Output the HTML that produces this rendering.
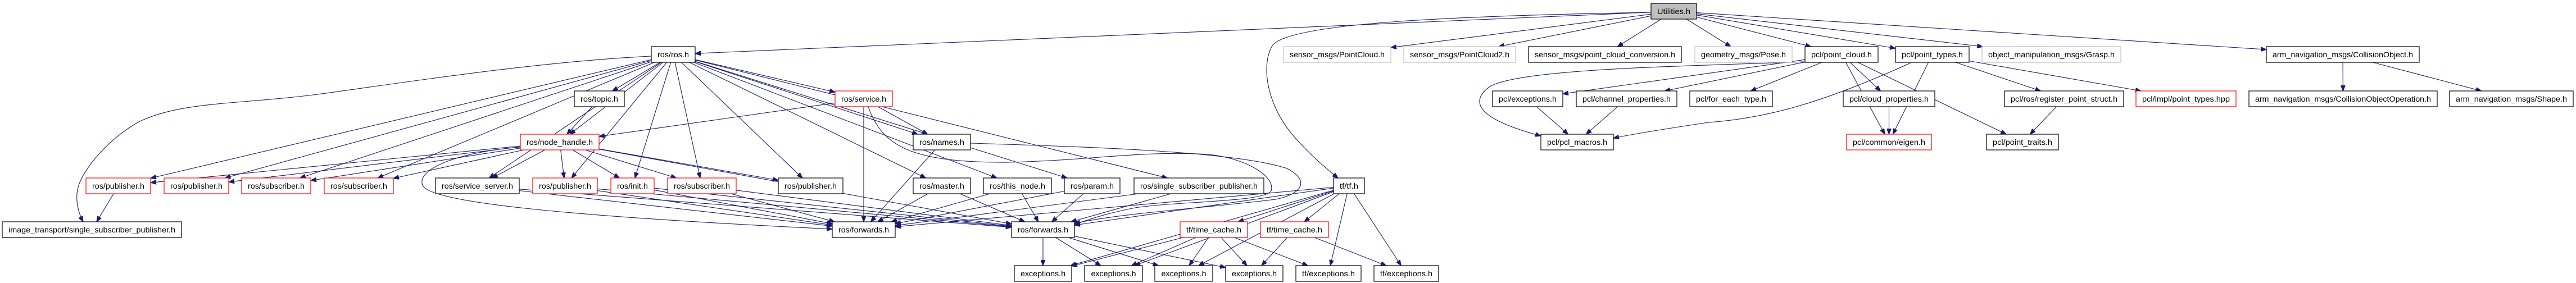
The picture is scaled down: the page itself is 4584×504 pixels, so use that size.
<!DOCTYPE html>
<html><head><meta charset="utf-8">
<style>
html,body{margin:0;padding:0;background:#fff;}
svg{display:block;}
text{font-family:"Liberation Sans",sans-serif;font-size:14px;fill:#000;}
rect{fill:#fff;stroke-width:1.2;}
.b{stroke:#000;}
.r{stroke:#ff0000;}
.g{stroke:#bfbfbf;}
.u{stroke:#000;fill:#bfbfbf;}
path.e{fill:none;stroke:#191970;stroke-width:1.1;}
</style></head>
<body>
<svg id="s" xmlns="http://www.w3.org/2000/svg" width="4584" height="504" viewBox="0 0 4584 504">
<defs><marker id="a" markerUnits="userSpaceOnUse" markerWidth="11" markerHeight="8" refX="10" refY="4" orient="auto"><path d="M0,0 L10,4 L0,8 z" fill="#191970" stroke="#191970"/></marker></defs>
<g id="edges"></g>
<g id="nodes">
<rect id="U" class="u" x="2938" y="6" width="81" height="28"/><text x="2978.5" y="25" text-anchor="middle" textLength="59" lengthAdjust="spacingAndGlyphs">Utilities.h</text>
<rect id="ros" class="b" x="1159" y="83" width="78" height="28"/><text x="1198" y="102" text-anchor="middle" textLength="56" lengthAdjust="spacingAndGlyphs">ros/ros.h</text>
<rect id="pc" class="g" x="2284" y="83" width="191" height="28"/><text x="2379.5" y="102" text-anchor="middle" textLength="169" lengthAdjust="spacingAndGlyphs">sensor_msgs/PointCloud.h</text>
<rect id="pc2" class="g" x="2498" y="83" width="199" height="28"/><text x="2597.5" y="102" text-anchor="middle" textLength="177" lengthAdjust="spacingAndGlyphs">sensor_msgs/PointCloud2.h</text>
<rect id="pcc" class="b" x="2720" y="83" width="272" height="28"/><text x="2856" y="102" text-anchor="middle" textLength="250" lengthAdjust="spacingAndGlyphs">sensor_msgs/point_cloud_conversion.h</text>
<rect id="pose" class="g" x="3016" y="83" width="173" height="28"/><text x="3102.5" y="102" text-anchor="middle" textLength="151" lengthAdjust="spacingAndGlyphs">geometry_msgs/Pose.h</text>
<rect id="pcl_pc" class="b" x="3212" y="83" width="130" height="28"/><text x="3277" y="102" text-anchor="middle" textLength="108" lengthAdjust="spacingAndGlyphs">pcl/point_cloud.h</text>
<rect id="pcl_pt" class="b" x="3373" y="83" width="131" height="28"/><text x="3438.5" y="102" text-anchor="middle" textLength="109" lengthAdjust="spacingAndGlyphs">pcl/point_types.h</text>
<rect id="grasp" class="g" x="3527" y="83" width="247" height="28"/><text x="3650.5" y="102" text-anchor="middle" textLength="225" lengthAdjust="spacingAndGlyphs">object_manipulation_msgs/Grasp.h</text>
<rect id="co" class="b" x="4033" y="83" width="272" height="28"/><text x="4169" y="102" text-anchor="middle" textLength="250" lengthAdjust="spacingAndGlyphs">arm_navigation_msgs/CollisionObject.h</text>
<rect id="topic" class="b" x="1022" y="162" width="89" height="28"/><text x="1066.5" y="181" text-anchor="middle" textLength="67" lengthAdjust="spacingAndGlyphs">ros/topic.h</text>
<rect id="service" class="r" x="1486" y="162" width="102" height="28"/><text x="1537" y="181" text-anchor="middle" textLength="80" lengthAdjust="spacingAndGlyphs">ros/service.h</text>
<rect id="pexc" class="b" x="2656" y="162" width="125" height="28"/><text x="2718.5" y="181" text-anchor="middle" textLength="103" lengthAdjust="spacingAndGlyphs">pcl/exceptions.h</text>
<rect id="chan" class="b" x="2805" y="162" width="179" height="28"/><text x="2894.5" y="181" text-anchor="middle" textLength="157" lengthAdjust="spacingAndGlyphs">pcl/channel_properties.h</text>
<rect id="foreach" class="b" x="3007" y="162" width="147" height="28"/><text x="3080.5" y="181" text-anchor="middle" textLength="125" lengthAdjust="spacingAndGlyphs">pcl/for_each_type.h</text>
<rect id="cloudp" class="b" x="3280" y="162" width="163" height="28"/><text x="3361.5" y="181" text-anchor="middle" textLength="141" lengthAdjust="spacingAndGlyphs">pcl/cloud_properties.h</text>
<rect id="reg" class="b" x="3567" y="162" width="212" height="28"/><text x="3673" y="181" text-anchor="middle" textLength="190" lengthAdjust="spacingAndGlyphs">pcl/ros/register_point_struct.h</text>
<rect id="impl" class="r" x="3801" y="162" width="178" height="28"/><text x="3890" y="181" text-anchor="middle" textLength="156" lengthAdjust="spacingAndGlyphs">pcl/impl/point_types.hpp</text>
<rect id="coo" class="b" x="4002" y="162" width="335" height="28"/><text x="4169.5" y="181" text-anchor="middle" textLength="313" lengthAdjust="spacingAndGlyphs">arm_navigation_msgs/CollisionObjectOperation.h</text>
<rect id="shape" class="b" x="4359" y="162" width="220" height="28"/><text x="4469" y="181" text-anchor="middle" textLength="198" lengthAdjust="spacingAndGlyphs">arm_navigation_msgs/Shape.h</text>
<rect id="nh" class="r" x="926" y="239" width="140" height="28"/><text x="996" y="258" text-anchor="middle" textLength="118" lengthAdjust="spacingAndGlyphs">ros/node_handle.h</text>
<rect id="names" class="b" x="1625" y="239" width="102" height="28"/><text x="1676" y="258" text-anchor="middle" textLength="80" lengthAdjust="spacingAndGlyphs">ros/names.h</text>
<rect id="macros" class="b" x="2742" y="239" width="129" height="28"/><text x="2806.5" y="258" text-anchor="middle" textLength="107" lengthAdjust="spacingAndGlyphs">pcl/pcl_macros.h</text>
<rect id="eigen" class="r" x="3286" y="239" width="151" height="28"/><text x="3361.5" y="258" text-anchor="middle" textLength="129" lengthAdjust="spacingAndGlyphs">pcl/common/eigen.h</text>
<rect id="traits" class="b" x="3535" y="239" width="128" height="28"/><text x="3599" y="258" text-anchor="middle" textLength="106" lengthAdjust="spacingAndGlyphs">pcl/point_traits.h</text>
<rect id="pub1" class="r" x="153" y="317" width="115" height="28"/><text x="210.5" y="336" text-anchor="middle" textLength="93" lengthAdjust="spacingAndGlyphs">ros/publisher.h</text>
<rect id="pub2" class="r" x="292" y="317" width="115" height="28"/><text x="349.5" y="336" text-anchor="middle" textLength="93" lengthAdjust="spacingAndGlyphs">ros/publisher.h</text>
<rect id="sub1" class="r" x="430" y="317" width="123" height="28"/><text x="491.5" y="336" text-anchor="middle" textLength="101" lengthAdjust="spacingAndGlyphs">ros/subscriber.h</text>
<rect id="sub2" class="r" x="577" y="317" width="123" height="28"/><text x="638.5" y="336" text-anchor="middle" textLength="101" lengthAdjust="spacingAndGlyphs">ros/subscriber.h</text>
<rect id="ss" class="b" x="775" y="317" width="149" height="28"/><text x="849.5" y="336" text-anchor="middle" textLength="127" lengthAdjust="spacingAndGlyphs">ros/service_server.h</text>
<rect id="pub3" class="r" x="948" y="317" width="115" height="28"/><text x="1005.5" y="336" text-anchor="middle" textLength="93" lengthAdjust="spacingAndGlyphs">ros/publisher.h</text>
<rect id="init" class="r" x="1087" y="317" width="77" height="28"/><text x="1125.5" y="336" text-anchor="middle" textLength="55" lengthAdjust="spacingAndGlyphs">ros/init.h</text>
<rect id="sub3" class="r" x="1188" y="317" width="122" height="28"/><text x="1249" y="336" text-anchor="middle" textLength="100" lengthAdjust="spacingAndGlyphs">ros/subscriber.h</text>
<rect id="pub4" class="b" x="1385" y="317" width="115" height="28"/><text x="1442.5" y="336" text-anchor="middle" textLength="93" lengthAdjust="spacingAndGlyphs">ros/publisher.h</text>
<rect id="master" class="b" x="1625" y="317" width="102" height="28"/><text x="1676" y="336" text-anchor="middle" textLength="80" lengthAdjust="spacingAndGlyphs">ros/master.h</text>
<rect id="thisn" class="b" x="1750" y="317" width="121" height="28"/><text x="1810.5" y="336" text-anchor="middle" textLength="99" lengthAdjust="spacingAndGlyphs">ros/this_node.h</text>
<rect id="param" class="b" x="1894" y="317" width="99" height="28"/><text x="1943.5" y="336" text-anchor="middle" textLength="77" lengthAdjust="spacingAndGlyphs">ros/param.h</text>
<rect id="ssp" class="b" x="2018" y="317" width="231" height="28"/><text x="2133.5" y="336" text-anchor="middle" textLength="209" lengthAdjust="spacingAndGlyphs">ros/single_subscriber_publisher.h</text>
<rect id="tf" class="b" x="2373" y="317" width="55" height="28"/><text x="2400.5" y="336" text-anchor="middle" textLength="33" lengthAdjust="spacingAndGlyphs">tf/tf.h</text>
<rect id="img" class="b" x="4" y="395" width="319" height="28"/><text x="163.5" y="414" text-anchor="middle" textLength="297" lengthAdjust="spacingAndGlyphs">image_transport/single_subscriber_publisher.h</text>
<rect id="fw1" class="b" x="1481" y="395" width="112" height="28"/><text x="1537" y="414" text-anchor="middle" textLength="90" lengthAdjust="spacingAndGlyphs">ros/forwards.h</text>
<rect id="fw2" class="b" x="1800" y="395" width="112" height="28"/><text x="1856" y="414" text-anchor="middle" textLength="90" lengthAdjust="spacingAndGlyphs">ros/forwards.h</text>
<rect id="tc1" class="r" x="2100" y="395" width="120" height="28"/><text x="2160" y="414" text-anchor="middle" textLength="98" lengthAdjust="spacingAndGlyphs">tf/time_cache.h</text>
<rect id="tc2" class="r" x="2243" y="395" width="121" height="28"/><text x="2303.5" y="414" text-anchor="middle" textLength="99" lengthAdjust="spacingAndGlyphs">tf/time_cache.h</text>
<rect id="e1" class="b" x="1805" y="473" width="102" height="28"/><text x="1856" y="492" text-anchor="middle" textLength="80" lengthAdjust="spacingAndGlyphs">exceptions.h</text>
<rect id="e2" class="b" x="1930" y="473" width="103" height="28"/><text x="1981.5" y="492" text-anchor="middle" textLength="80" lengthAdjust="spacingAndGlyphs">exceptions.h</text>
<rect id="e3" class="b" x="2055" y="473" width="103" height="28"/><text x="2106.5" y="492" text-anchor="middle" textLength="80" lengthAdjust="spacingAndGlyphs">exceptions.h</text>
<rect id="e4" class="b" x="2181" y="473" width="102" height="28"/><text x="2232" y="492" text-anchor="middle" textLength="80" lengthAdjust="spacingAndGlyphs">exceptions.h</text>
<rect id="tfe1" class="b" x="2306" y="473" width="116" height="28"/><text x="2364" y="492" text-anchor="middle" textLength="94" lengthAdjust="spacingAndGlyphs">tf/exceptions.h</text>
<rect id="tfe2" class="b" x="2445" y="473" width="115" height="28"/><text x="2502.5" y="492" text-anchor="middle" textLength="93" lengthAdjust="spacingAndGlyphs">tf/exceptions.h</text>
</g>
</svg>
<script>
(function(){
var g=document.getElementById('edges'),NS='http://www.w3.org/2000/svg';
function add(d){var p=document.createElementNS(NS,'path');p.setAttribute('d',d);p.setAttribute('class','e');p.setAttribute('marker-end','url(#a)');g.appendChild(p);}
function B(id){var r=document.getElementById(id);var x=+r.getAttribute('x'),y=+r.getAttribute('y'),w=+r.getAttribute('width'),h=+r.getAttribute('height');return{cx:x+w/2,cy:y+h/2,hw:w/2,hh:h/2};}
function pt(b,dx,dy){var t=Math.min(dx?b.hw/Math.abs(dx):1e9,dy?b.hh/Math.abs(dy):1e9);return[b.cx+dx*t,b.cy+dy*t];}
function E(a,b){var A=B(a),C=B(b);var dx=C.cx-A.cx,dy=C.cy-A.cy;var s=pt(A,dx,dy),e=pt(C,-dx,-dy);
var mx=(s[0]+e[0])/2,my=(s[1]+e[1])/2;
add('M'+s[0].toFixed(1)+','+s[1].toFixed(1)+' Q'+(mx).toFixed(1)+','+(my).toFixed(1)+' '+e[0].toFixed(1)+','+e[1].toFixed(1));}
var L={
U:['ros','pc','pc2','pcc','pose','pcl_pc','pcl_pt','grasp','co'],
ros:['pub1','pub2','sub1','sub2','ss','nh','topic','pub3','init','sub3','pub4','service','names','master','thisn','param','ssp'],
topic:['nh'],service:['nh','names','fw1'],
nh:['pub1','pub2','sub1','sub2','ss','pub3','init','sub3','pub4','fw2'],
names:['fw1'],master:['fw1','fw2'],thisn:['fw1','fw2'],param:['fw1','fw2'],ssp:['fw1','fw2'],
ss:['fw1','fw2'],pub3:['fw1','fw2'],init:['fw1','fw2'],sub3:['fw1','fw2'],
pub1:['img'],
tf:['fw1','fw2','tc1','tc2','e1','e2','e3','tfe1','tfe2'],
fw2:['e1','e2','e3','e4'],tc1:['e1','e2','e3','e4','tfe1'],tc2:['e4','tfe2'],
pcl_pc:['pexc','chan','foreach','cloudp','eigen','traits'],
pcl_pt:['eigen','reg','impl'],
pexc:['macros'],chan:['macros'],cloudp:['eigen'],reg:['traits'],
co:['coo','shape']};
for(var k in L)L[k].forEach(function(t){E(k,t);});
add('M1159,100 C950,110 700,150 565,168 C430,186 320,180 245,218 C190,250 150,300 140,330 C132,355 140,380 148,395');
add('M2938,22 C2600,28 2300,40 2265,80 C2245,110 2250,180 2300,240 C2330,275 2360,300 2381,317');
add('M1545,190 C1570,260 1620,290 1795,289 C1950,285 2030,268 2150,275 C2220,282 2270,315 2262,340 C2250,360 2100,358 2020,370 C1960,382 1935,392 1912,400');
add('M1727,255 C1950,262 2200,270 2290,300 C2330,320 2320,345 2270,355 C2150,370 1990,380 1912,398');
add('M926,262 C820,270 740,300 752,330 C765,360 1000,385 1481,408');
add('M3212,110 C3000,118 2700,122 2650,155 C2610,185 2640,215 2742,242');
add('M3400,112 C3250,180 3150,210 3040,218 C2960,230 2900,240 2871,246');
})();
</script>
</body></html>
